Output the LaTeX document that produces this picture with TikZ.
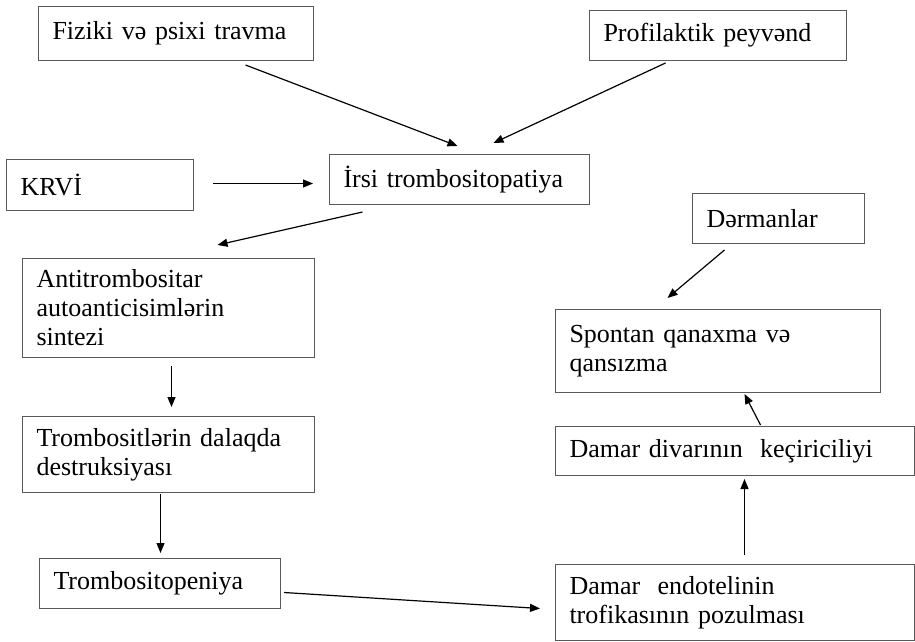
\documentclass[tikz,border=0pt]{standalone}
\usepackage{fontspec}
\setmainfont{Liberation Serif}
\usetikzlibrary{arrows.meta}

\begin{document}
\begin{tikzpicture}[x=1pt, y=-1pt,
        box/.style={draw=black!65, line width=1pt, anchor=north west, inner xsep=14pt, inner ysep=0pt, align=left, font=\fontsize{26}{29}\selectfont},
        arr/.style={-{Triangle[length=10pt, width=8pt]}, line width=1.2pt}]
        \useasboundingbox (0,0) rectangle (915,642);
        \node[box, text width=247pt, minimum height=54pt] (fiz) at (38,6) {Fiziki və psixi travma};
        \node[box, text width=229pt, minimum height=50pt] (prof) at (589,10) {Profilaktik peyvənd};
        \node[box, text width=159pt, minimum height=51pt] (krvi) at (6,159) {KRVİ};
        \node[box, text width=232pt, minimum height=50pt] (irsi) at (329,154) {İrsi trombositopatiya};
        \node[box, text width=144pt, minimum height=50pt] (derm) at (692,193) {Dərmanlar};
        \node[box, text width=264pt, minimum height=99pt] (anti) at (22,258) {Antitrombositar\\autoanticisimlərin\\sintezi};
        \node[box, text width=297pt, minimum height=83pt] (spon) at (555,309) {Spontan qanaxma və\\qansızma};
        \node[box, text width=264pt, minimum height=76pt] (dest) at (22,416) {Trombositlərin dalaqda\\destruksiyası};
        \node[box, text width=331pt, minimum height=49pt] (divar) at (555,426) {Damar divarının\ \ keçiriciliyi};
        \node[box, text width=213pt, minimum height=50pt] (penia) at (39,558) {Trombositopeniya};
        \node[box, text width=331pt, minimum height=76pt] (endo) at (555,564) {Damar\ \ endotelinin\\trofikasının pozulması};
        \path[arr]
        ([xshift=69.5pt, yshift=-4pt]fiz.south) edge ([xshift=-2pt, yshift=8pt]irsi.north)
        ([xshift=-52.5pt, yshift=-2pt]prof.south) edge ([xshift=34pt, yshift=11pt]irsi.north)
        ([xshift=19pt, yshift=1.5pt]krvi.east) edge ([xshift=-16pt, yshift=-4pt]irsi.west)
        ([xshift=-97pt, yshift=-7pt]irsi.south) edge ([xshift=49pt, yshift=13pt]anti.north)
        ([xshift=-54pt, yshift=-6pt]derm.south) edge ([xshift=-50.5pt, yshift=11pt]spon.north)
        ([xshift=3pt, yshift=-8pt]anti.south) edge ([xshift=3pt, yshift=9pt]dest.north)
        ([xshift=-8pt, yshift=-1pt]dest.south) edge ([xshift=0.5pt, yshift=5pt]penia.north)
        ([xshift=3pt, yshift=-9pt]penia.east) edge ([xshift=-15pt, yshift=-6pt]endo.west)
        ([xshift=9.5pt, yshift=9pt]endo.north) edge ([xshift=9.5pt, yshift=-3pt]divar.south)
        ([xshift=25.5pt, yshift=1pt]divar.north) edge ([xshift=26.5pt, yshift=-1pt]spon.south);
\end{tikzpicture}
\end{document}
